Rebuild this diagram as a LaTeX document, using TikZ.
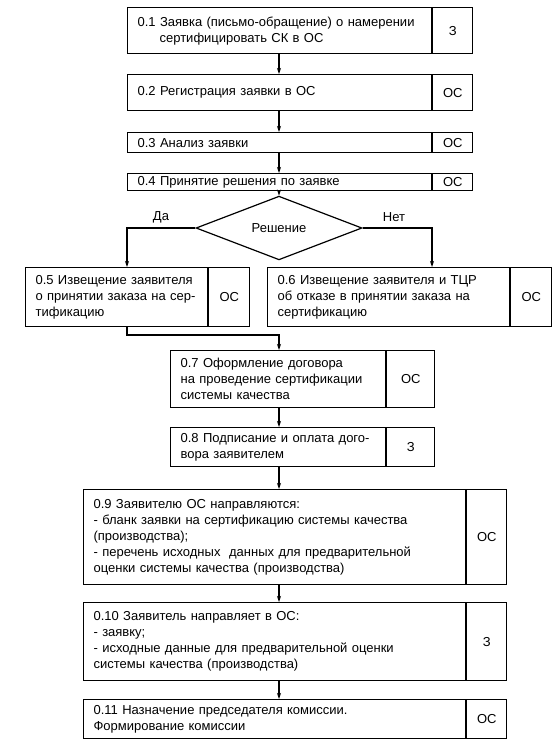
\documentclass[tikz,border=0pt]{standalone}
\usepackage{fontspec}
\setmainfont{Liberation Sans}
\usetikzlibrary{shapes.geometric,arrows.meta,positioning}

\begin{document}
\begin{tikzpicture}[x=1pt,y=-1pt,
    stepbox/.style={draw, line width=1.2pt, inner xsep=10pt, inner ysep=0pt,
      align=left, anchor=north west, font=\fontsize{13}{16}\selectfont},
    cellbox/.style={draw, line width=1.2pt, inner sep=0pt, anchor=north west,
      font=\fontsize{13}{16}\selectfont},
    lbl/.style={font=\fontsize{13}{16}\selectfont},
    arr/.style={line width=1.1pt, -{Stealth[length=6pt,width=4pt]}}]
  \useasboundingbox (0,0) rectangle (556,748);

  % Column positions of the connectors
  \coordinate (mid) at (279,0);
  \coordinate (da) at (127,0);
  \coordinate (net) at (432,0);

  % Steps 0.1 - 0.4
  \node[stepbox, text width=284pt, minimum height=46pt] (s1) at (127,7)
    {0.1 Заявка (письмо-обращение) о намерении\\\hspace*{22pt}сертифицировать СК в ОС};
  \node[cellbox, minimum width=40pt, minimum height=46pt] (c1) at (s1.north east) {З};
  \node[stepbox, text width=284pt, minimum height=36pt] (s2) at (127,74)
    {0.2 Регистрация заявки в ОС};
  \node[cellbox, minimum width=40pt, minimum height=36pt] (c2) at (s2.north east) {ОС};
  \node[stepbox, text width=284pt, minimum height=20pt] (s3) at (127,132)
    {0.3 Анализ заявки};
  \node[cellbox, minimum width=40pt, minimum height=20pt] (c3) at (s3.north east) {ОС};
  \node[stepbox, text width=284pt, minimum height=17pt] (s4) at (127,173)
    {0.4 Принятие решения по заявке};
  \node[cellbox, minimum width=40pt, minimum height=17pt] (c4) at (s4.north east) {ОС};

  % Decision
  \node[draw, line width=1.2pt, diamond, inner sep=0pt, minimum width=166pt,
    minimum height=49pt, lbl] (dia) at (279,228) {Решение};
  \node[lbl] (yes) at (161,217) {Да};
  \node[lbl] (no) at (394,217) {Нет};

  % Steps 0.5 and 0.6
  \node[stepbox, text width=162pt, minimum height=59pt] (s5) at (25,267)
    {0.5 Извещение заявителя\\о принятии заказа на сер-\\тификацию};
  \node[cellbox, minimum width=41pt, minimum height=59pt] (c5) at (s5.north east) {ОС};
  \node[stepbox, text width=222pt, minimum height=59pt] (s6) at (267,267)
    {0.6 Извещение заявителя и ТЦР\\об отказе в принятии заказа на\\сертификацию};
  \node[cellbox, minimum width=41pt, minimum height=59pt] (c6) at (s6.north east) {ОС};

  % Steps 0.7 - 0.11
  \node[stepbox, text width=195pt, minimum height=57pt] (s7) at (170,350)
    {0.7 Оформление договора\\на проведение сертификации\\системы качества};
  \node[cellbox, minimum width=48pt, minimum height=57pt] (c7) at (s7.north east) {ОС};
  \node[stepbox, text width=195pt, minimum height=39pt] (s8) at (170,427)
    {0.8 Подписание и оплата дого-\\вора заявителем};
  \node[cellbox, minimum width=48pt, minimum height=39pt] (c8) at (s8.north east) {З};
  \node[stepbox, text width=362pt, minimum height=95pt] (s9) at (83,489)
    {0.9 Заявителю ОС направляются:\\- бланк заявки на сертификацию системы качества\\(производства);\\- перечень исходных\ \ данных для предварительной\\оценки системы качества (производства)};
  \node[cellbox, minimum width=40pt, minimum height=95pt] (c9) at (s9.north east) {ОС};
  \node[stepbox, text width=362pt, minimum height=78pt] (s10) at (83,602)
    {0.10 Заявитель направляет в ОС:\\- заявку;\\- исходные данные для предварительной оценки\\системы качества (производства)};
  \node[cellbox, minimum width=40pt, minimum height=78pt] (c10) at (s10.north east) {З};
  \node[stepbox, text width=362pt, minimum height=39pt] (s11) at (83,699)
    {0.11 Назначение председателя комиссии.\\Формирование комиссии};
  \node[cellbox, minimum width=40pt, minimum height=39pt] (c11) at (s11.north east) {ОС};

  % Connectors
  \draw[arr] (s1.south -| mid) -- (s2.north -| mid);
  \draw[arr] (s2.south -| mid) -- (s3.north -| mid);
  \draw[arr] (s3.south -| mid) -- (s4.north -| mid);
  \draw[arr] (s4.south -| mid) -- (dia.north);
  \draw[arr] (dia.west) -| (s5.north -| da);
  \draw[arr] (dia.east) -| (s6.north -| net);
  \coordinate (join) at (279,335);
  \draw[arr] (s5.south -| da) |- (join) -- (s7.north -| mid);
  \draw[arr] (s7.south -| mid) -- (s8.north -| mid);
  \draw[arr] (s8.south -| mid) -- (s9.north -| mid);
  \draw[arr] (s9.south -| mid) -- (s10.north -| mid);
  \draw[arr] (s10.south -| mid) -- (s11.north -| mid);
\end{tikzpicture}
\end{document}
